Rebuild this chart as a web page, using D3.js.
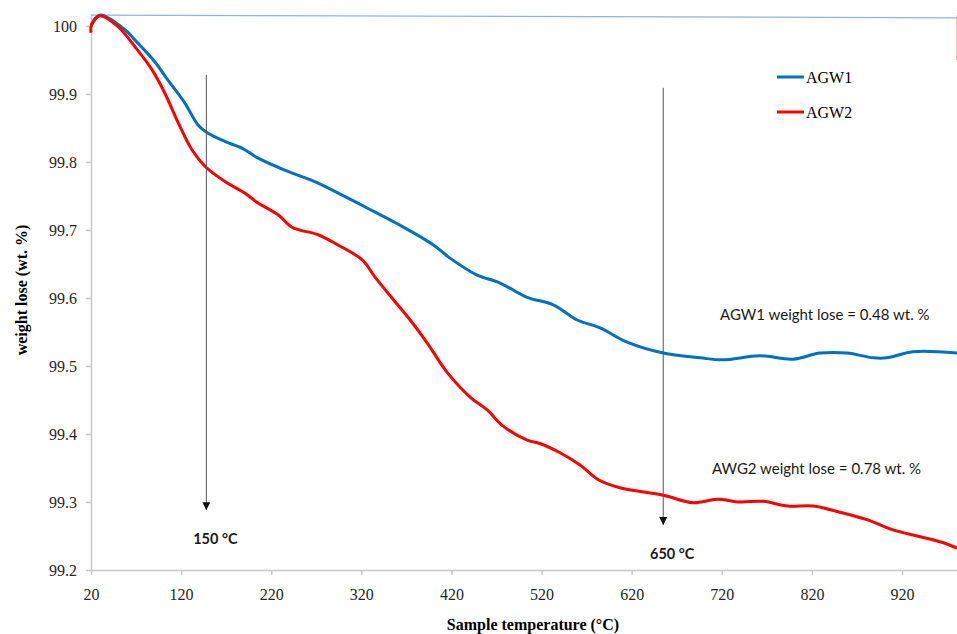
<!DOCTYPE html>
<html lang="en">
<head>
<meta charset="UTF-8" />
<title>TGA curves AGW1 / AGW2</title>
<script src="https://cdn.jsdelivr.net/npm/d3@7"></script>
<style>
  body { margin: 0; background: #fff; }
  .axis path, .axis line { stroke: #c8c8c8; stroke-width: 1.5; }
  .axis text { font-family: "Liberation Serif", serif; font-size: 16px; fill: #262626; }
  .note { font-family: Lato, "Open Sans", sans-serif; font-size: 15px; fill: #1a1a1a; }
  .tlabel { font-family: Lato, "Open Sans", sans-serif; font-size: 14.5px; font-weight: bold; fill: #1a1a1a; }
  .title { font-family: "Liberation Serif", serif; font-size: 16px; font-weight: bold; fill: #000; }
  .legend text { font-family: "Liberation Serif", serif; font-size: 16px; fill: #000; }
</style>
</head>
<body>
<script>
// temperature (°C) and weight (wt. %)
var agw1Temp = [20, 30, 58, 69, 91, 105, 124, 139, 149, 169, 188, 205, 235, 272, 302, 327, 363, 400, 418, 448, 474, 504, 533, 559, 585, 615, 655, 696, 721, 762, 799, 829, 859, 888, 903, 932, 981];
var agw1Weight = [100.001, 100.016, 99.994, 99.979, 99.947, 99.921, 99.887, 99.854, 99.843, 99.830, 99.820, 99.806, 99.788, 99.769, 99.749, 99.732, 99.707, 99.678, 99.659, 99.634, 99.622, 99.601, 99.590, 99.568, 99.556, 99.535, 99.519, 99.512, 99.509, 99.515, 99.510, 99.519, 99.519, 99.512, 99.512, 99.521, 99.519];

var agw2Temp = [20, 20.5, 30, 50, 69, 88, 102, 117, 132, 147, 169, 191, 205, 228, 243, 272, 294, 321, 335, 354, 374, 393, 415, 441, 460, 477, 504, 518, 541, 563, 584, 607, 655, 688, 715, 740, 766, 793, 821, 851, 881, 910, 940, 966, 981];
var agw2Weight = [99.990, 100.001, 100.015, 99.999, 99.969, 99.935, 99.901, 99.857, 99.818, 99.793, 99.771, 99.754, 99.740, 99.722, 99.704, 99.693, 99.678, 99.656, 99.631, 99.600, 99.568, 99.534, 99.491, 99.454, 99.435, 99.412, 99.391, 99.386, 99.372, 99.354, 99.332, 99.321, 99.310, 99.299, 99.304, 99.300, 99.301, 99.294, 99.294, 99.285, 99.274, 99.259, 99.249, 99.240, 99.232];

// thin return traces along the top and right edge
var agw1ReturnTemp = [20, 981];
var agw1ReturnWeight = [100.016, 100.012];
var agw2ReturnTemp = [981, 981];
var agw2ReturnWeight = [100.016, 99.950];

var xTicks = [20, 120, 220, 320, 420, 520, 620, 720, 820, 920];
var yTicks = [99.2, 99.3, 99.4, 99.5, 99.6, 99.7, 99.8, 99.9, 100];
var yTickLabels = ["99.2", "99.3", "99.4", "99.5", "99.6", "99.7", "99.8", "99.9", "100"];

var seriesNames = ["AGW1", "AGW2"];
var seriesColors = ["#0070c0", "#ff0000"];

var markTemps = [148, 655];
var markTop = [99.928, 99.909];
var markTip = [99.288, 99.266];
var markLabels = ["150 °C", "650 °C"];

var margin = {top: 14, right: 0, bottom: 64, left: 91},
    width = 957 - margin.left - margin.right,
    height = 634 - margin.top - margin.bottom;

var svg = d3.select("body").append("svg")
    .attr("width", 957)
    .attr("height", 634);

var g = svg.append("g")
    .attr("transform", "translate(" + margin.left + "," + margin.top + ")");

var x = d3.scaleLinear().domain([20, 981]).range([0, width]);
var y = d3.scaleLinear().domain([99.2, 100.0176]).range([height, 0]);

// axes
var xAxis = g.append("g")
    .attr("class", "axis")
    .attr("transform", "translate(0," + height + ")")
    .call(d3.axisBottom(x).tickValues(xTicks).tickSize(5).tickSizeOuter(0).tickPadding(10));

var yAxis = g.append("g")
    .attr("class", "axis")
    .call(d3.axisLeft(y).tickValues(yTicks).tickSize(5).tickSizeOuter(0).tickPadding(9)
      .tickFormat(function(d, i) { return yTickLabels[i]; }));

[xAxis, yAxis].forEach(function(a) {
  a.attr("font-family", null).attr("font-size", null);
  a.selectAll(".tick text")
    .style("font-family", "'Liberation Serif', serif")
    .style("font-size", "16px")
    .attr("fill", "#262626");
});
xAxis.selectAll(".tick text").attr("dy", "0.95em");

// curves
var line = d3.line()
    .x(function(d) { return x(d[0]); })
    .y(function(d) { return y(d[1]); })
    .curve(d3.curveCatmullRom.alpha(0.5));

var straight = d3.line()
    .x(function(d) { return x(d[0]); })
    .y(function(d) { return y(d[1]); });

g.append("path")
    .datum(d3.zip(agw1ReturnTemp, agw1ReturnWeight))
    .attr("d", straight)
    .attr("fill", "none")
    .attr("stroke", "#8db4e2")
    .attr("stroke-width", 1.3);

g.append("path")
    .datum(d3.zip(agw2ReturnTemp, agw2ReturnWeight))
    .attr("d", straight)
    .attr("fill", "none")
    .attr("stroke", "#f7b4b4")
    .attr("stroke-width", 1.5);

g.append("path")
    .datum(d3.zip(agw1Temp, agw1Weight))
    .attr("d", line)
    .attr("fill", "none")
    .attr("stroke", seriesColors[0])
    .attr("stroke-width", 3)
    .attr("stroke-linejoin", "round");

g.append("path")
    .datum(d3.zip(agw2Temp, agw2Weight))
    .attr("d", line)
    .attr("fill", "none")
    .attr("stroke", seriesColors[1])
    .attr("stroke-width", 3)
    .attr("stroke-linejoin", "round");

// arrows marking the temperatures
svg.append("defs").append("marker")
    .attr("id", "head")
    .attr("viewBox", "0 0 10 10")
    .attr("refX", 10).attr("refY", 5)
    .attr("markerWidth", 8).attr("markerHeight", 8)
    .attr("markerUnits", "userSpaceOnUse")
    .attr("orient", "auto")
  .append("path")
    .attr("d", "M0,0L10,5L0,10Z")
    .attr("fill", "#111");

markTemps.forEach(function(t, i) {
  g.append("line")
      .attr("x1", x(t)).attr("x2", x(t))
      .attr("y1", y(markTop[i])).attr("y2", y(markTip[i]))
      .attr("stroke", "#555")
      .attr("stroke-width", 1)
      .attr("marker-end", "url(#head)");
  g.append("text")
      .attr("class", "tlabel")
      .attr("x", x(t) + 9)
      .attr("y", y(markTip[i]) + 34)
      .attr("text-anchor", "middle")
      .text(markLabels[i]);
});

// notes
g.append("text").attr("class", "note")
    .attr("x", 720 - margin.left).attr("y", y(99.5675))
    .text("AGW1 weight lose = 0.48 wt. %");
g.append("text").attr("class", "note")
    .attr("x", 712 - margin.left).attr("y", y(99.341))
    .text("AWG2 weight lose = 0.78 wt. %");

// legend
var legend = g.selectAll(".legend")
    .data(seriesNames)
  .enter().append("g")
    .attr("class", "legend")
    .attr("transform", function(d, i) { return "translate(" + (777 - margin.left) + "," + (63 + i * 35) + ")"; });

legend.append("line")
    .attr("x1", 0).attr("x2", 27)
    .attr("stroke", function(d, i) { return seriesColors[i]; })
    .attr("stroke-width", 3);

legend.append("text")
    .attr("x", 29).attr("dy", "0.35em")
    .text(function(d) { return d; });

// axis titles
svg.append("text")
    .attr("class", "title")
    .attr("transform", "translate(27," + (margin.top + 276) + ") rotate(-90)")
    .attr("text-anchor", "middle")
    .text("weight lose (wt. %)");

svg.append("text")
    .attr("class", "title")
    .attr("x", 533).attr("y", 630)
    .attr("text-anchor", "middle")
    .text("Sample temperature (°C)");
</script>
</body>
</html>
